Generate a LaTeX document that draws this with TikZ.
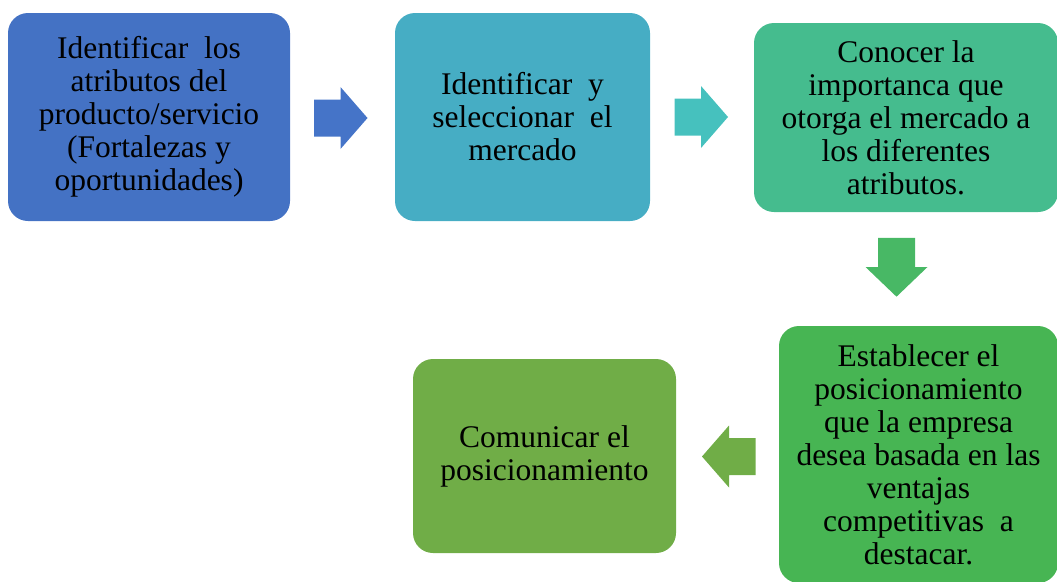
\documentclass[tikz,border=0pt]{standalone}
\usepackage{fontspec}
\setmainfont{Liberation Serif}

\definecolor{bluefillcolor}{RGB}{68,114,196}
\definecolor{bluearrowcolor}{RGB}{69,116,200}
\definecolor{tealfillcolor}{RGB}{70,173,196}
\definecolor{tealarrowcolor}{RGB}{70,193,190}
\definecolor{seafillcolor}{RGB}{69,188,142}
\definecolor{seaarrowcolor}{RGB}{72,184,101}
\definecolor{greenfillcolor}{RGB}{71,181,83}
\definecolor{olivefillcolor}{RGB}{112,173,71}

\tikzset{
  stepbox/.style={rounded corners=20pt, inner sep=0pt, align=center,
    font=\fontsize{31.5}{33}\selectfont},
  flecha/.pic={
    \path[pic actions] (-26.5,-18.5) -- (0,-18.5) -- (0,-31) -- (27,0)
      -- (0,31) -- (0,18.5) -- (-26.5,18.5) -- cycle;
  }
}

\begin{document}
\begin{tikzpicture}[x=1pt,y=-1pt]
\useasboundingbox (0,0) rectangle (1057,581);
\clip (0,0) rectangle (1057,581);
% pasos
\node[stepbox,fill=bluefillcolor,minimum width=282pt,minimum height=208pt] (atributos) at (149,117)
  {Identificar\ \ los\\atributos del\\producto/servicio\\(Fortalezas y\\oportunidades)};
\node[stepbox,fill=tealfillcolor,minimum width=255pt,minimum height=208pt] (mercado) at (522.5,117)
  {Identificar\ \ y\\seleccionar\ \ el\\mercado};
\node[stepbox,fill=seafillcolor,minimum width=304pt,minimum height=189pt] (importancia) at (906,117.5)
  {Conocer la\\importanca que\\otorga el mercado a\\los diferentes\\atributos.};
\node[stepbox,fill=greenfillcolor,minimum width=279pt,minimum height=257pt] (establecer) at (918.5,454.5)
  {Establecer el\\posicionamiento\\que la empresa\\desea basada en las\\ventajas\\competitivas\ \ a\\destacar.};
\node[stepbox,fill=olivefillcolor,minimum width=263pt,minimum height=194pt] (comunicar) at (544.5,456)
  {Comunicar el\\posicionamiento};
% flechas
\pic[fill=bluearrowcolor] (flechauno) at (340.5,118) {flecha};
\pic[fill=tealarrowcolor] (flechados) at (701,117) {flecha};
\pic[fill=seaarrowcolor,rotate=-90,xscale=1.1] (flechatres) at (896.5,267) {flecha};
\pic[fill=olivefillcolor,rotate=180] (flechacuatro) at (729,456.5) {flecha};
\end{tikzpicture}
\end{document}
